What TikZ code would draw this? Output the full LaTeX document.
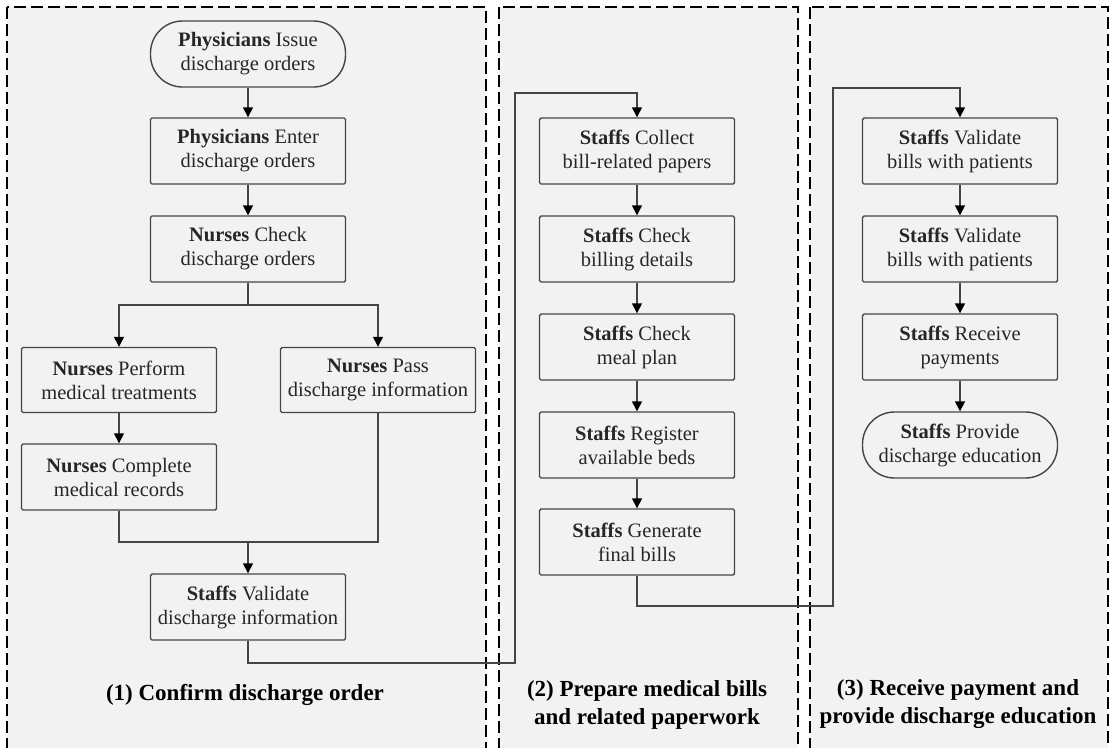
\documentclass[tikz,border=0pt]{standalone}
\usepackage{fontspec}
\setmainfont{Liberation Serif}
\usetikzlibrary{arrows.meta}
\definecolor{panelgray}{HTML}{F2F2F2}
\definecolor{linegray}{HTML}{454545}
\tikzset{
  panel/.style={draw=black, fill=panelgray, line width=1.8pt, dash pattern=on 12pt off 5pt},
  box/.style={draw=linegray, line width=1.4pt, minimum width=195pt, minimum height=66pt,
    inner sep=0pt, align=center, rounded corners=1.5pt, text=black!85,
    font=\fontsize{20.5}{24}\selectfont},
  term/.style={box, rounded corners=32pt},
  conn/.style={draw=linegray, line width=1.4pt},
  arr/.style={conn, -{Triangle[length=10pt,width=10pt,fill=black,color=black]}},
  title/.style={align=center, font=\bfseries\fontsize{23}{27.5}\selectfont, text=black}
}
\begin{document}
\begin{tikzpicture}[x=1pt,y=-1pt]
\useasboundingbox (0,0) rectangle (1113,747);
\clip (0,0) rectangle (1113,747);
\fill[white] (0,0) rectangle (1113,747);
% panels
\draw[panel] (7,7) rectangle (486,770);
\draw[panel] (499,7) rectangle (798,770);
\draw[panel] (810,7) rectangle (1108,770);

% panel 1
\node[term] (issue) at (248,54) {\textbf{Physicians} Issue\\discharge orders};
\node[box] (enter) at (248,151) {\textbf{Physicians} Enter\\discharge orders};
\node[box] (check) at (248,249) {\textbf{Nurses} Check\\discharge orders};
\node[box, minimum height=65pt] (perform) at (119,380) {\textbf{Nurses} Perform\\medical treatments};
\node[box, minimum height=65pt] (pass) at (378,380) {\textbf{Nurses} Pass\\discharge information};
\node[box] (complete) at (119,477) {\textbf{Nurses} Complete\\medical records};
\node[box] (validate) at (248,607) {\textbf{Staffs} Validate\\discharge information};
\coordinate (split) at (248,305);
\coordinate (merge) at (248,542);
\node[title] (t1) at (245,695) {(1) Confirm discharge order};

% panel 2
\node[box] (collect) at (637,151) {\textbf{Staffs} Collect\\bill-related papers};
\node[box] (billing) at (637,249) {\textbf{Staffs} Check\\billing details};
\node[box] (meal) at (637,347) {\textbf{Staffs} Check\\meal plan};
\node[box] (register) at (637,445) {\textbf{Staffs} Register\\available beds};
\node[box] (generate) at (637,542) {\textbf{Staffs} Generate\\final bills};
\node[title] (t2) at (647,705) {(2) Prepare medical bills\\and related paperwork};

% panel 3
\node[box] (vbills1) at (960,151) {\textbf{Staffs} Validate\\bills with patients};
\node[box] (vbills2) at (960,249) {\textbf{Staffs} Validate\\bills with patients};
\node[box] (receive) at (960,347) {\textbf{Staffs} Receive\\payments};
\node[term] (provide) at (960,445) {\textbf{Staffs} Provide\\discharge education};
\node[title] (t3) at (958,704) {(3) Receive payment and\\provide discharge education};

% link coordinates
\coordinate (c1a) at (515,663);
\coordinate (c1b) at (515,93);
\coordinate (c2a) at (833,606);
\coordinate (c2b) at (833,88);

% connectors panel 1
\draw[arr] (issue) -- (enter);
\draw[arr] (enter) -- (check);
\draw[conn] (check.south) -- (split);
\draw[arr] (split) -| (perform.north);
\draw[arr] (split) -| (pass.north);
\draw[arr] (perform) -- (complete);
\draw[conn] (complete.south) |- (merge);
\draw[conn] (pass.south) |- (merge);
\draw[arr] (merge) -- (validate.north);
\draw[arr] (validate.south) |- (c1a) -- (c1b) -| (collect.north);

% connectors panel 2
\draw[arr] (collect) -- (billing);
\draw[arr] (billing) -- (meal);
\draw[arr] (meal) -- (register);
\draw[arr] (register) -- (generate);
\draw[arr] (generate.south) |- (c2a) -- (c2b) -| (vbills1.north);

% connectors panel 3
\draw[arr] (vbills1) -- (vbills2);
\draw[arr] (vbills2) -- (receive);
\draw[arr] (receive) -- (provide);
\end{tikzpicture}
\end{document}
